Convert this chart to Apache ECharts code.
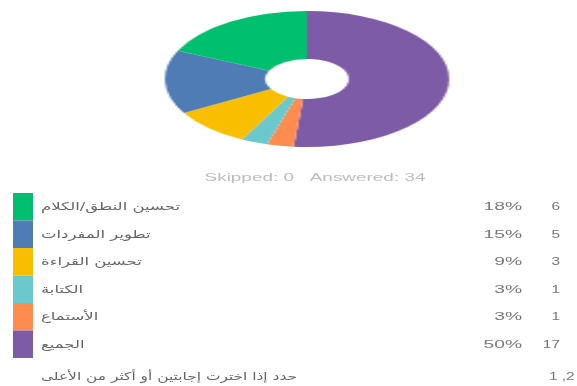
<!DOCTYPE html>
<html><head><meta charset="utf-8">
<script src="https://cdn.jsdelivr.net/npm/echarts@6/dist/echarts.min.js"></script>
<style>
html,body{margin:0;padding:0;background:#fff;width:577px;height:386px;overflow:hidden;}
#main{position:absolute;left:0;top:0;width:577px;height:386px;}
#pie{position:absolute;left:232px;top:4px;width:150px;height:150px;transform:scaleX(2.09);transform-origin:50% 50%;}
</style></head>
<body>
<div id="main"></div>
<div id="pie"></div>
<script>
// Data (pie order: clockwise from 12 o'clock)
var pieNames = ['الجميع', 'الأستماع', 'الكتابة', 'تحسين القراءة', 'تطوير المفردات', 'تحسين النطق/الكلام'];
var pieValues = [17, 1, 1, 3, 5, 6];
var pieColors = ['#7d5ba6', '#ff8b4f', '#6bc8cd', '#f9be00', '#507cb6', '#00bf6f'];

// Table rows (top to bottom)
var rowNames = ['تحسين النطق/الكلام', 'تطوير المفردات', 'تحسين القراءة', 'الكتابة', 'الأستماع', 'الجميع'];
var rowPercents = ['18%', '15%', '9%', '3%', '3%', '50%'];
var rowCounts = [6, 5, 3, 1, 1, 17];
var rowColors = ['#00bf6f', '#507cb6', '#f9be00', '#6bc8cd', '#ff8b4f', '#7d5ba6'];
var footerText = 'حدد إذا اخترت إجابتين أو أكثر من الأعلى';
var footerCount = '1 ,2';
var summaryText = 'Skipped: 0   Answered: 34';

var pieChart = echarts.init(document.getElementById('pie'));
pieChart.setOption({
  animation: false,
  series: [{
    type: 'pie',
    center: ['50%', 75],
    radius: [20, 68],
    startAngle: 90,
    clockwise: true,
    label: {show: false},
    labelLine: {show: false},
    itemStyle: {borderWidth: 0},
    emphasis: {disabled: true},
    data: pieNames.map(function (n, i) {
      return {name: n, value: pieValues[i], itemStyle: {color: pieColors[i]}};
    })
  }]
});

var mainChart = echarts.init(document.getElementById('main'));
var rowTop = 193, rowH = 27.5;
var graphics = [];
var SX_AR = 1.5, SX_NUM = 1.75;
graphics.push({
  type: 'text', x: 315, y: 178, scaleX: 1.72,
  style: {text: summaryText, fill: '#bdbdbd', fontSize: 11, fontFamily: 'Liberation Sans, Arial', textAlign: 'center', textVerticalAlign: 'middle'}
});
rowNames.forEach(function (n, i) {
  var y0 = rowTop + i * rowH;
  var yc = y0 + rowH / 2 + 0.5;
  graphics.push({type: 'rect', shape: {x: 13, y: y0, width: 20, height: rowH}, style: {fill: rowColors[i]}});
  graphics.push({type: 'text', x: 41, y: yc, scaleX: SX_AR,
    style: {text: n, fill: '#666', fontSize: 11, fontFamily: 'DejaVu Sans', textAlign: 'left', textVerticalAlign: 'middle'}});
  graphics.push({type: 'text', x: 522, y: yc, scaleX: SX_NUM,
    style: {text: rowPercents[i], fill: '#777', fontSize: 11, fontFamily: 'Liberation Sans, Arial', textAlign: 'right', textVerticalAlign: 'middle'}});
  graphics.push({type: 'text', x: 560, y: yc, scaleX: 1.4,
    style: {text: String(rowCounts[i]), fill: '#777', fontSize: 11, fontFamily: 'Liberation Sans, Arial', textAlign: 'right', textVerticalAlign: 'middle'}});
});
graphics.push({type: 'text', x: 41, y: 377, scaleX: 1.4,
  style: {text: footerText, fill: '#666', fontSize: 11, fontFamily: 'DejaVu Sans', textAlign: 'left', textVerticalAlign: 'middle'}});
graphics.push({type: 'text', x: 549, y: 377, scaleX: 1.4,
  style: {text: footerCount, fill: '#777', fontSize: 11, fontFamily: 'Liberation Sans, Arial', textAlign: 'left', textVerticalAlign: 'middle'}});
mainChart.setOption({animation: false, graphic: graphics});
</script>
</body></html>
